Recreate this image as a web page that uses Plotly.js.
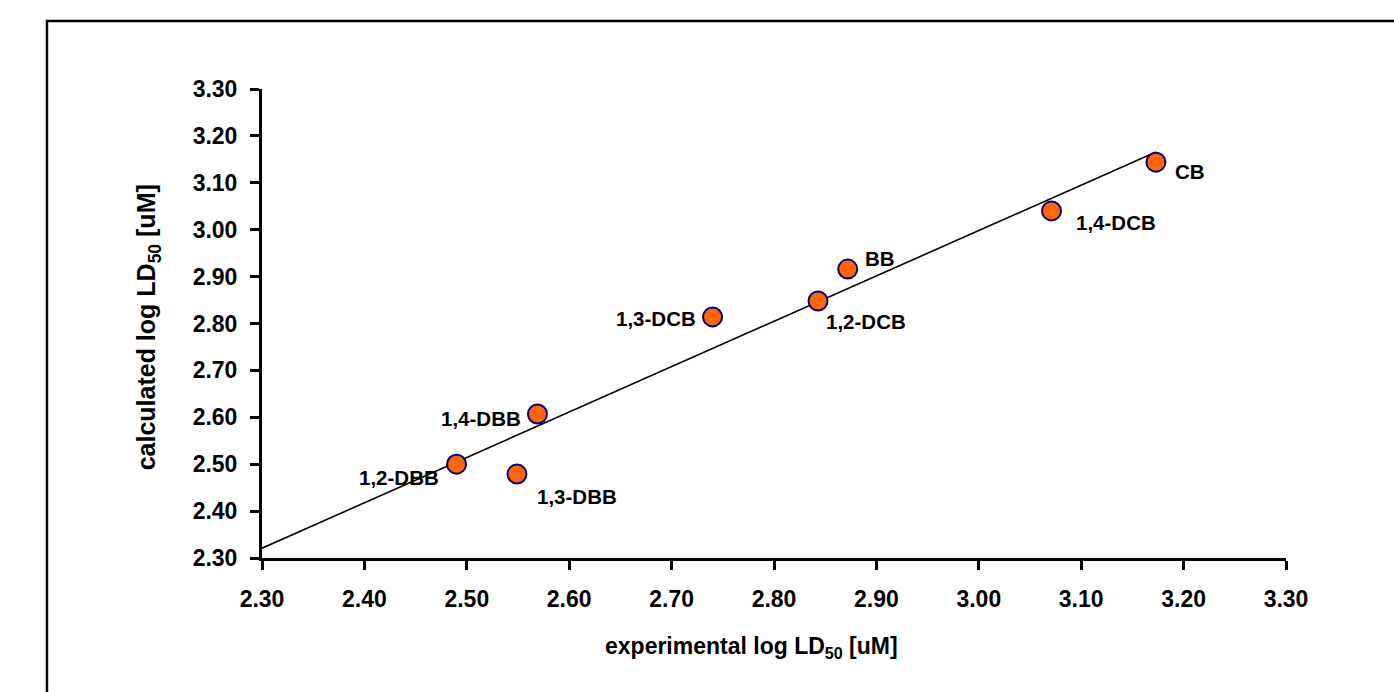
<!DOCTYPE html>
<html>
<head>
<meta charset="utf-8">
<script src="https://cdn.plot.ly/plotly-3.0.1.min.js"></script>
<style>
  html, body { margin: 0; padding: 0; background: #ffffff; }
  #chart { width: 1394px; height: 692px; }
</style>
</head>
<body>
<div id="chart"></div>
<script>
// Halogenated benzenes: experimental vs calculated log LD50 [uM]
const compounds = ['CB', '1,4-DCB', 'BB', '1,2-DCB', '1,3-DCB', '1,4-DBB', '1,2-DBB', '1,3-DBB'];
const experimental = [3.173, 3.071, 2.872, 2.843, 2.740, 2.569, 2.490, 2.549];
const calculated   = [3.144, 3.040, 2.916, 2.848, 2.814, 2.607, 2.500, 2.479];
const axisTicks = [2.30, 2.40, 2.50, 2.60, 2.70, 2.80, 2.90, 3.00, 3.10, 3.20, 3.30];

// Label placement relative to each marker (pixels)
const labelShiftX = [34, 64, 32, 48, -57, -56, -58, 60];
const labelShiftY = [-9, -12, 11, -21, -2, -4, -13, -22];

// Least-squares fit line, extended back to the axis minimum
const n = experimental.length;
const mx = experimental.reduce((a, b) => a + b, 0) / n;
const my = calculated.reduce((a, b) => a + b, 0) / n;
let sxy = 0, sxx = 0;
for (let i = 0; i < n; i++) {
  sxy += (experimental[i] - mx) * (calculated[i] - my);
  sxx += (experimental[i] - mx) * (experimental[i] - mx);
}
const slope = sxy / sxx;
const intercept = my - slope * mx;
const fitX = [axisTicks[0], Math.max(...experimental)];
const fitY = fitX.map(x => intercept + slope * x);

const FONT = 'Liberation Sans, Arial, sans-serif';
const tickFont = { family: FONT, size: 23, color: '#000000', weight: 'bold' };

const traces = [
  {
    x: fitX, y: fitY, type: 'scatter', mode: 'lines',
    line: { color: '#000000', width: 1.6 },
    hoverinfo: 'skip', showlegend: false
  },
  {
    x: experimental, y: calculated, type: 'scatter', mode: 'markers',
    text: compounds,
    marker: { size: 19, color: '#FF6600', line: { color: '#000080', width: 2 } },
    showlegend: false
  }
];

const annotations = compounds.map((name, i) => ({
  x: experimental[i], y: calculated[i], xref: 'x', yref: 'y',
  text: name, showarrow: false,
  xshift: labelShiftX[i], yshift: labelShiftY[i],
  font: { family: FONT, size: 20.5, color: '#000000', weight: 'bold' }
}));

annotations.push({
  xref: 'paper', yref: 'paper', x: 0.4785, y: -0.19,
  xanchor: 'center', yanchor: 'middle', showarrow: false,
  text: 'experimental log LD<sub>50</sub> [uM]',
  font: { family: FONT, size: 23, color: '#000000', weight: 'bold' }
});
annotations.push({
  xref: 'paper', yref: 'paper', x: -0.111, y: 0.4925,
  xanchor: 'center', yanchor: 'middle', showarrow: false, textangle: -90,
  text: 'calculated log LD<sub>50</sub> [uM]',
  font: { family: FONT, size: 25, color: '#000000', weight: 'bold' }
});

const axisCommon = {
  range: [2.3, 3.3],
  tickvals: axisTicks,
  ticktext: axisTicks.map(v => v.toFixed(2)),
  showline: true, linecolor: '#000000', linewidth: 3,
  ticks: 'outside', ticklen: 9, tickwidth: 3, tickcolor: '#000000',
  showgrid: false, zeroline: false,
  tickfont: tickFont,
  fixedrange: true
};

const layout = {
  width: 1394, height: 692,
  margin: { l: 262, r: 108, t: 89, b: 134 },
  paper_bgcolor: '#ffffff', plot_bgcolor: '#ffffff',
  xaxis: Object.assign({}, axisCommon, { ticklabelstandoff: 9 }),
  yaxis: Object.assign({}, axisCommon, { ticklabelstandoff: 8 }),
  annotations: annotations,
  shapes: [{
    type: 'rect', xref: 'paper', yref: 'paper',
    x0: -0.21, x1: 1.25, y0: -0.45, y1: 1.145,
    line: { color: '#000000', width: 2.5 }, fillcolor: 'rgba(0,0,0,0)'
  }],
  showlegend: false
};

Plotly.newPlot('chart', traces, layout, { displayModeBar: false, staticPlot: true });
</script>
</body>
</html>
